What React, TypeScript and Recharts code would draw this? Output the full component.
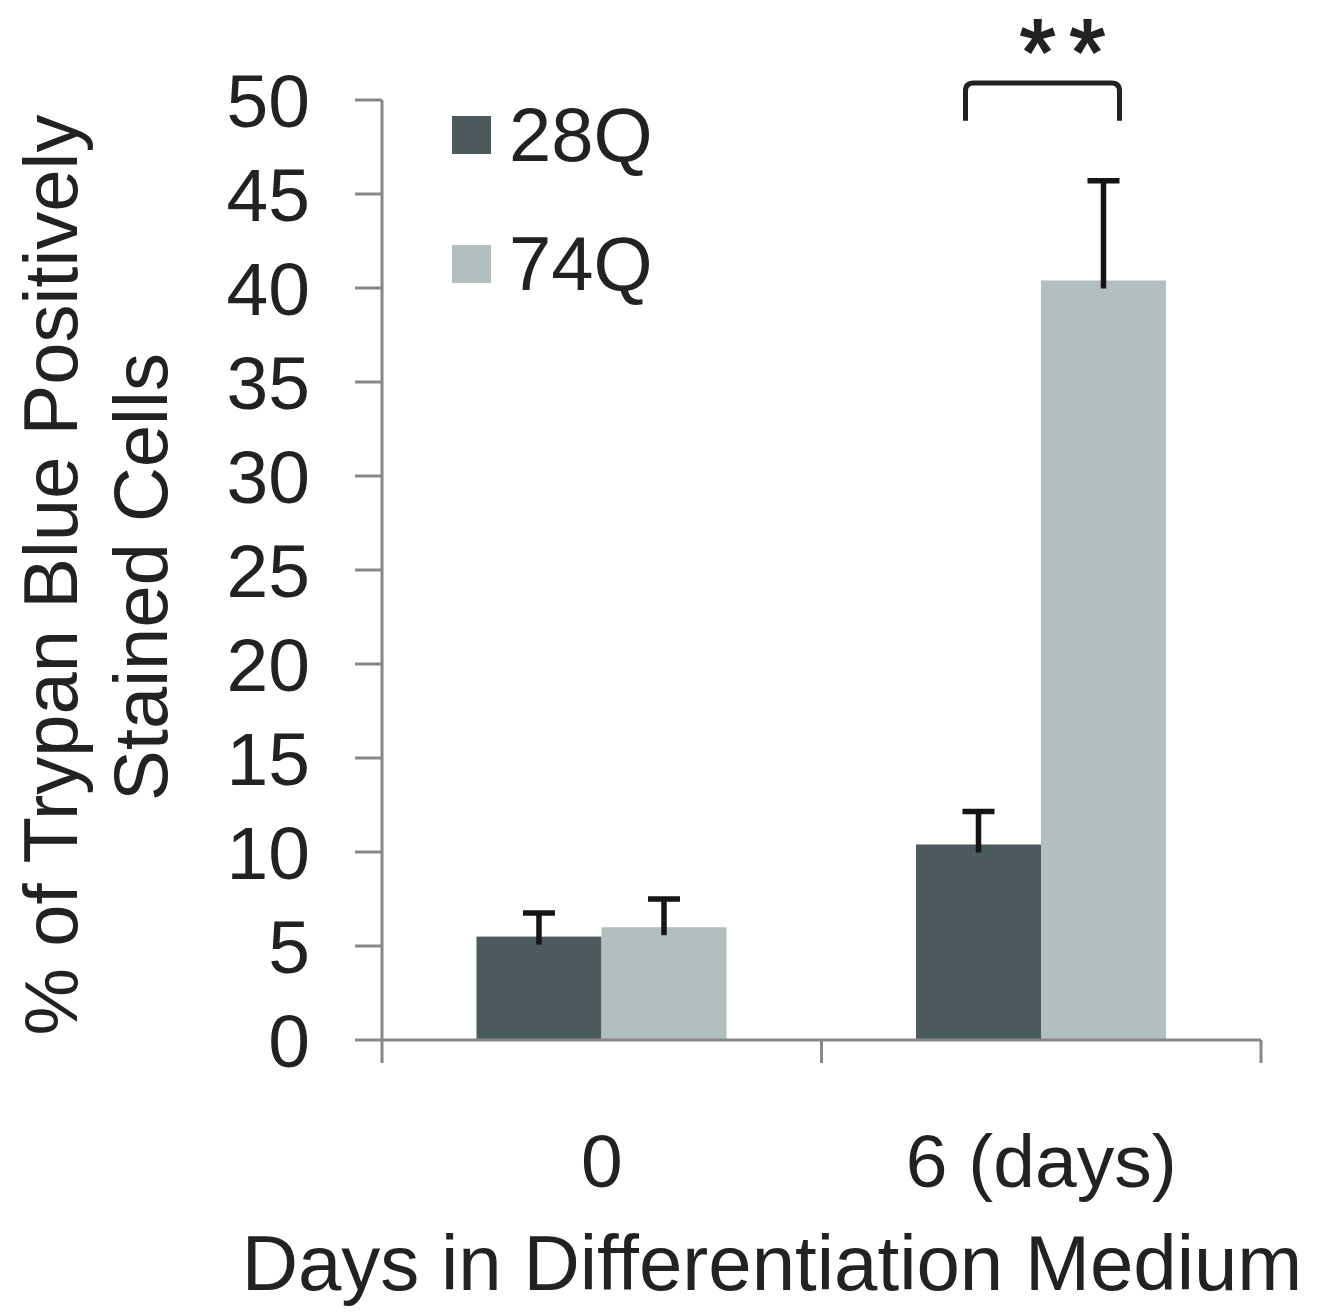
import { BarChart, Bar, XAxis, YAxis, Legend } from 'recharts';

const categories = ['0', '6 (days)'];
const seriesNames = ['28Q', '74Q'];
const mean28Q = [5.5, 10.4];
const mean74Q = [6.0, 40.4];
const err28Q = [1.25, 1.75];
const err74Q = [1.5, 5.3];
const significance = ['', '**'];
const yTicks = [0, 5, 10, 15, 20, 25, 30, 35, 40, 45, 50];

const FONT = '"Liberation Sans", Arial, sans-serif';
const TEXT = '#222';
const AXIS = '#878787';
const COLOR_28Q = '#4a5a5d';
const COLOR_74Q = '#b1bfbf';

const data = categories.map((day, i) => ({
  day,
  q28: mean28Q[i],
  q74: mean74Q[i],
  e28: err28Q[i],
  e74: err74Q[i],
  sig: significance[i],
}));

// bar + one-sided (upper) error bar, plus the significance bracket on the 74Q bar
function makeShape(key: 'q28' | 'q74', errKey: 'e28' | 'e74') {
  return (props: any) => {
    const { x, y, width, height, payload, fill } = props;
    const v = payload[key];
    const ppu = height / v;
    const base = y + height;
    const cx = x + width / 2;
    const errTop = y - payload[errKey] * ppu;
    const capHalf = 16;
    let bracket = null;
    if (key === 'q74' && payload.sig) {
      const left = cx - width - 13;
      const right = cx + 16;
      const top = base - 50.9 * ppu;
      const leg = base - 48.9 * ppu;
      const r = 8;
      bracket = (
        <g>
          <path
            d={`M${left},${leg} L${left},${top + r} Q${left},${top} ${left + r},${top} L${right - r},${top} Q${right},${top} ${right},${top + r} L${right},${leg}`}
            fill="none"
            stroke={TEXT}
            strokeWidth={5}
          />
          <text
            x={(left + right) / 2 + 27}
            y={top + 1}
            textAnchor="middle"
            fontFamily={FONT}
            fontSize={92}
            letterSpacing={14}
            fill={TEXT}
            stroke={TEXT}
            strokeWidth={2}
          >
            {payload.sig}
          </text>
        </g>
      );
    }
    return (
      <g>
        <rect x={x} y={y} width={width} height={height} fill={fill} />
        <line x1={cx} x2={cx} y1={y + 8} y2={errTop} stroke="#151515" strokeWidth={5.5} />
        <line x1={cx - capHalf} x2={cx + capHalf} y1={errTop} y2={errTop} stroke="#151515" strokeWidth={5.5} />
        {bracket}
      </g>
    );
  };
}

function CategoryTick(props: any) {
  const { x, y, payload } = props;
  const half = payload.offset ?? 219.75;
  return (
    <g>
      <line x1={x - half} x2={x - half} y1={y} y2={y + 23} stroke={AXIS} strokeWidth={3} />
      <line x1={x + half} x2={x + half} y1={y} y2={y + 23} stroke={AXIS} strokeWidth={3} />
      <text x={x} y={y + 147} textAnchor="middle" fontFamily={FONT} fontSize={75} fill={TEXT}>
        {payload.value}
      </text>
    </g>
  );
}

function YTitle() {
  return (
    <g>
      <text
        transform="translate(50,575) rotate(-90)"
        textAnchor="middle"
        dominantBaseline="central"
        fontFamily={FONT}
        fontSize={76}
        fill={TEXT}
      >
        % of Trypan Blue Positively
      </text>
      <text
        transform="translate(140,577) rotate(-90)"
        textAnchor="middle"
        dominantBaseline="central"
        fontFamily={FONT}
        fontSize={76}
        fill={TEXT}
      >
        Stained Cells
      </text>
    </g>
  );
}

function XTitle() {
  return (
    <text x={772} y={1290} textAnchor="middle" fontFamily={FONT} fontSize={78} fill={TEXT}>
      Days in Differentiation Medium
    </text>
  );
}

function LegendBox(props: any) {
  const items = props.payload || [];
  return (
    <div style={{ fontFamily: FONT, fontSize: 76, color: TEXT }}>
      {items.map((it: any) => (
        <div key={it.value} style={{ display: 'flex', alignItems: 'center', height: 129 }}>
          <span style={{ width: 39, height: 38, background: it.color, marginRight: 18, display: 'inline-block' }} />
          <span style={{ lineHeight: '129px' }}>{it.value}</span>
        </div>
      ))}
    </div>
  );
}

export default function App() {
  return (
    <div style={{ position: 'absolute', left: 0, top: 0, background: '#fff' }}>
      <BarChart
        width={1321}
        height={1316}
        data={data}
        margin={{ top: 100, right: 60, bottom: 0, left: 0 }}
        barCategoryGap="21.5%"
        barGap={0}
      >
        <XAxis
          dataKey="day"
          height={276}
          stroke={AXIS}
          axisLine={{ stroke: AXIS, strokeWidth: 3 }}
          tickLine={false}
          tickSize={0}
          tickMargin={0}
          tick={<CategoryTick />}
          interval={0}
          label={XTitle}
        />
        <YAxis
          width={382}
          domain={[0, 50]}
          ticks={yTicks}
          interval={0}
          axisLine={{ stroke: AXIS, strokeWidth: 3 }}
          tickLine={{ stroke: AXIS, strokeWidth: 3 }}
          tickSize={27}
          tickMargin={45}
          tick={{ fontFamily: FONT, fontSize: 75, fill: TEXT }}
          label={YTitle}
        />
        <Legend
          layout="vertical"
          align="center"
          verticalAlign="middle"
          content={<LegendBox />}
          wrapperStyle={{ left: 452, top: 70, width: 'auto', height: 'auto' }}
        />
        <Bar
          dataKey="q28"
          name={seriesNames[0]}
          fill={COLOR_28Q}
          shape={makeShape('q28', 'e28')}
          isAnimationActive={false}
        />
        <Bar
          dataKey="q74"
          name={seriesNames[1]}
          fill={COLOR_74Q}
          shape={makeShape('q74', 'e74')}
          isAnimationActive={false}
        />
      </BarChart>
    </div>
  );
}
